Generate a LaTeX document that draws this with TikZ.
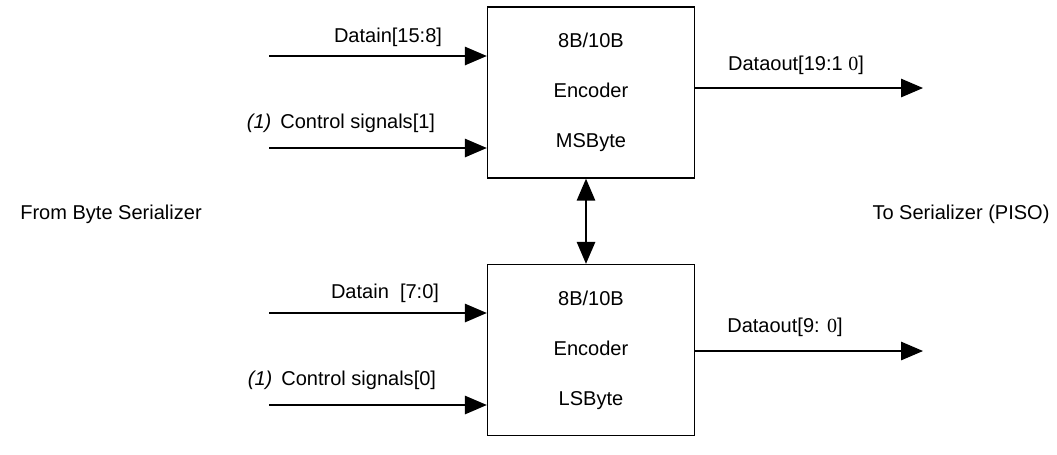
\documentclass[tikz,border=0pt]{standalone}
\usepackage{fontspec}
\setmainfont{Liberation Sans}
\newfontfamily\numfont{Liberation Serif}
\usetikzlibrary{positioning,arrows.meta}

\begin{document}
\begin{tikzpicture}[x=0.02cm,y=-0.02cm,
every node/.style={font=\fontsize{11.4}{13}\selectfont},
enc/.style={draw,line width=0.8pt,minimum width=4.14cm,minimum height=3.42cm,align=center,inner sep=0pt},
lbl/.style={inner sep=0pt},
arr/.style={-{Triangle[length=12.5pt,width=10.5pt]},line width=0.8pt},
darr/.style={{Triangle[length=12.5pt,width=10.5pt]}-{Triangle[length=12.5pt,width=10.5pt]},line width=0.8pt}]
\useasboundingbox (0,0) rectangle (1057,454);
% encoder blocks
\node[enc] (msb) at (591,92.5) {8B/10B\\[15.5pt]Encoder\\[15.5pt]MSByte};
\node[enc] (lsb) at (591,350) {8B/10B\\[15.5pt]Encoder\\[15.5pt]LSByte};
\draw[darr] ([xshift=-0.1cm]msb.south) -- ([xshift=-0.1cm]lsb.north);
% inputs
\coordinate (dinh) at (269,56);
\coordinate (ctlh) at (269,148);
\coordinate (dinl) at (269,313);
\coordinate (ctll) at (269,405);
\draw[arr] (dinh) -- (dinh -| msb.west);
\draw[arr] (ctlh) -- (ctlh -| msb.west);
\draw[arr] (dinl) -- (dinl -| lsb.west);
\draw[arr] (ctll) -- (ctll -| lsb.west);
\node[lbl] (dinhl) at (388,37) {Datain[15:8]};
\node[lbl] (ctlhl) at (341,123) {{\itshape (1)}\ \,Control signals[1]};
\node[lbl] (dinll) at (385,293) {Datain\ \ [7:0]};
\node[lbl] (ctlll) at (342,380) {{\itshape (1)}\ \,Control signals[0]};
% outputs
\coordinate (douth) at (923,88);
\coordinate (doutl) at (923,351);
\draw[arr] (douth -| msb.east) -- (douth);
\draw[arr] (doutl -| lsb.east) -- (doutl);
\node[lbl] (douthl) at (796,65) {Dataout[19:1 {\numfont 0}]};
\node[lbl] (doutll) at (785,327) {Dataout[9: {\numfont 0}]};
% sides
\node[lbl] (from) at (111,214) {From Byte Serializer};
\node[lbl] (to) at (961,214) {To Serializer (PISO)};
\end{tikzpicture}
\end{document}
